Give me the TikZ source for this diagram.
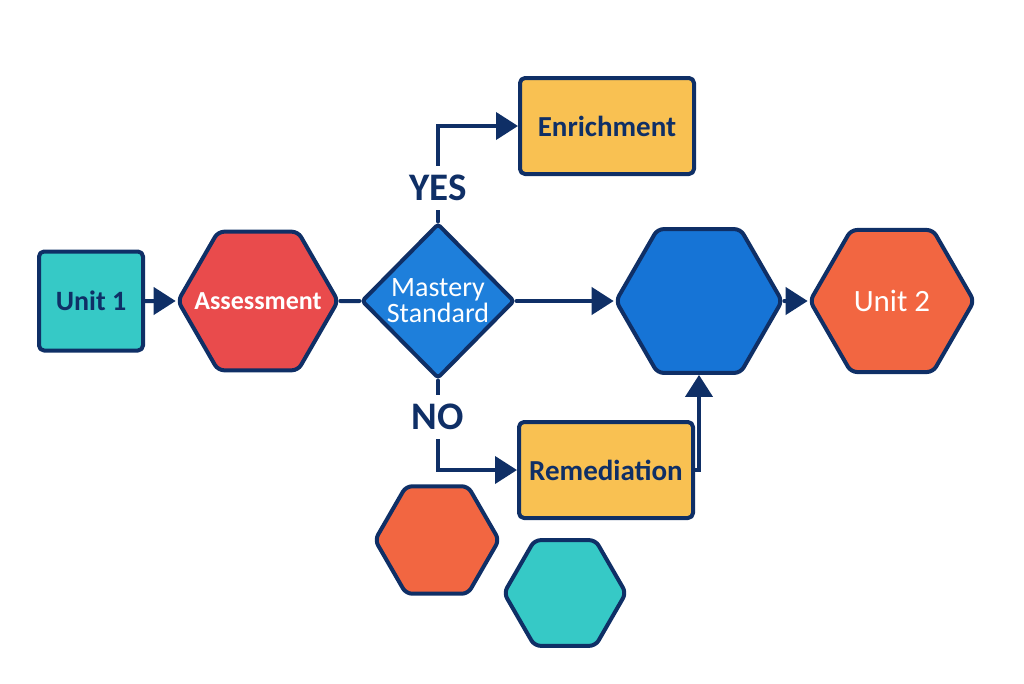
\documentclass[tikz,border=0pt]{standalone}
\usepackage{fontspec}
\setmainfont{Carlito}
\usetikzlibrary{shapes.geometric,arrows.meta}

\definecolor{navy}{HTML}{0F2F66}
\definecolor{tealA}{HTML}{36C9C6}
\definecolor{redA}{HTML}{E94B4C}
\definecolor{blueA}{HTML}{1E7FDB}
\definecolor{blueB}{HTML}{1674D6}
\definecolor{orangeA}{HTML}{F26641}
\definecolor{yellowA}{HTML}{F9C152}

\begin{document}
\begin{tikzpicture}[
		x=1pt,y=-1pt,
		>={Triangle[length=22pt,width=27pt]},
		line cap=round,line join=round,
		box/.style={draw=navy,line width=4pt,rounded corners=5pt,inner sep=0pt,
			fill=yellowA,text=navy,minimum width=174pt,minimum height=96pt,
			font=\fontsize{29}{34}\selectfont\bfseries},
		hexa/.style={draw=navy,line width=4pt,rounded corners=6pt,inner sep=0pt,
			regular polygon,regular polygon sides=6},
		conn/.style={draw=navy,line width=4pt,line join=miter,->},
		lbl/.style={fill=white,text=navy,inner sep=9pt,
			font=\fontsize{39}{40}\selectfont\bfseries}
		]
		%----- frame
		\useasboundingbox (0,0) rectangle (1024,683);
		
		%----- main row
		\node[box,fill=tealA,minimum width=104pt,minimum height=99pt,
			font=\fontsize{28}{34}\selectfont\bfseries] (unitA) at (91,301) {Unit 1};
		\node[hexa,fill=redA,minimum size=160pt,text=white,
			font=\fontsize{26}{30}\selectfont\bfseries] (assess) at (258,301) {\makebox[0pt]{Assessment}};
		\node[diamond,draw=navy,line width=4pt,rounded corners=3pt,fill=blueA,
			minimum width=153pt,minimum height=155pt,inner sep=0pt,align=center,
			text=white,font=\fontsize{28}{26}\selectfont] (mastery) at (438,301) {Mastery\\Standard};
		\node[hexa,fill=blueB,minimum size=166pt] (bluehex) at (699,301) {};
		\node[hexa,fill=orangeA,minimum size=164pt,text=white,
			font=\fontsize{31}{34}\selectfont] (unitB) at (892,301) {\makebox[0pt]{Unit 2}};
		
		%----- branches
		\node[box] (enrich) at (607,126) {Enrichment};
		\node[box] (remed) at (606,470) {Remediation};
		
		%----- loose hexagons
		\node[hexa,fill=orangeA,minimum size=124pt] (hexO) at (437,540) {};
		\node[hexa,fill=tealA,minimum size=122pt] (hexT) at (565,593) {};
		
		%----- connectors
		\draw[conn] (unitA.east) -- (assess.west);
		\draw[navy,line width=4pt] (assess.east) -- (mastery.west);
		\draw[conn] (mastery.east) -- (bluehex.west);
		\draw[conn] (bluehex.east) -- (unitB.west);
		\draw[conn] (mastery.north) |- node[lbl,pos=0.177] (yes) {YES} (enrich.west);
		\draw[conn] (mastery.south) |- node[lbl,pos=0.205] (no) {NO} (remed.west);
		\draw[conn] (remed.east) -| (bluehex.south);
		
	\end{tikzpicture}
\end{document}
